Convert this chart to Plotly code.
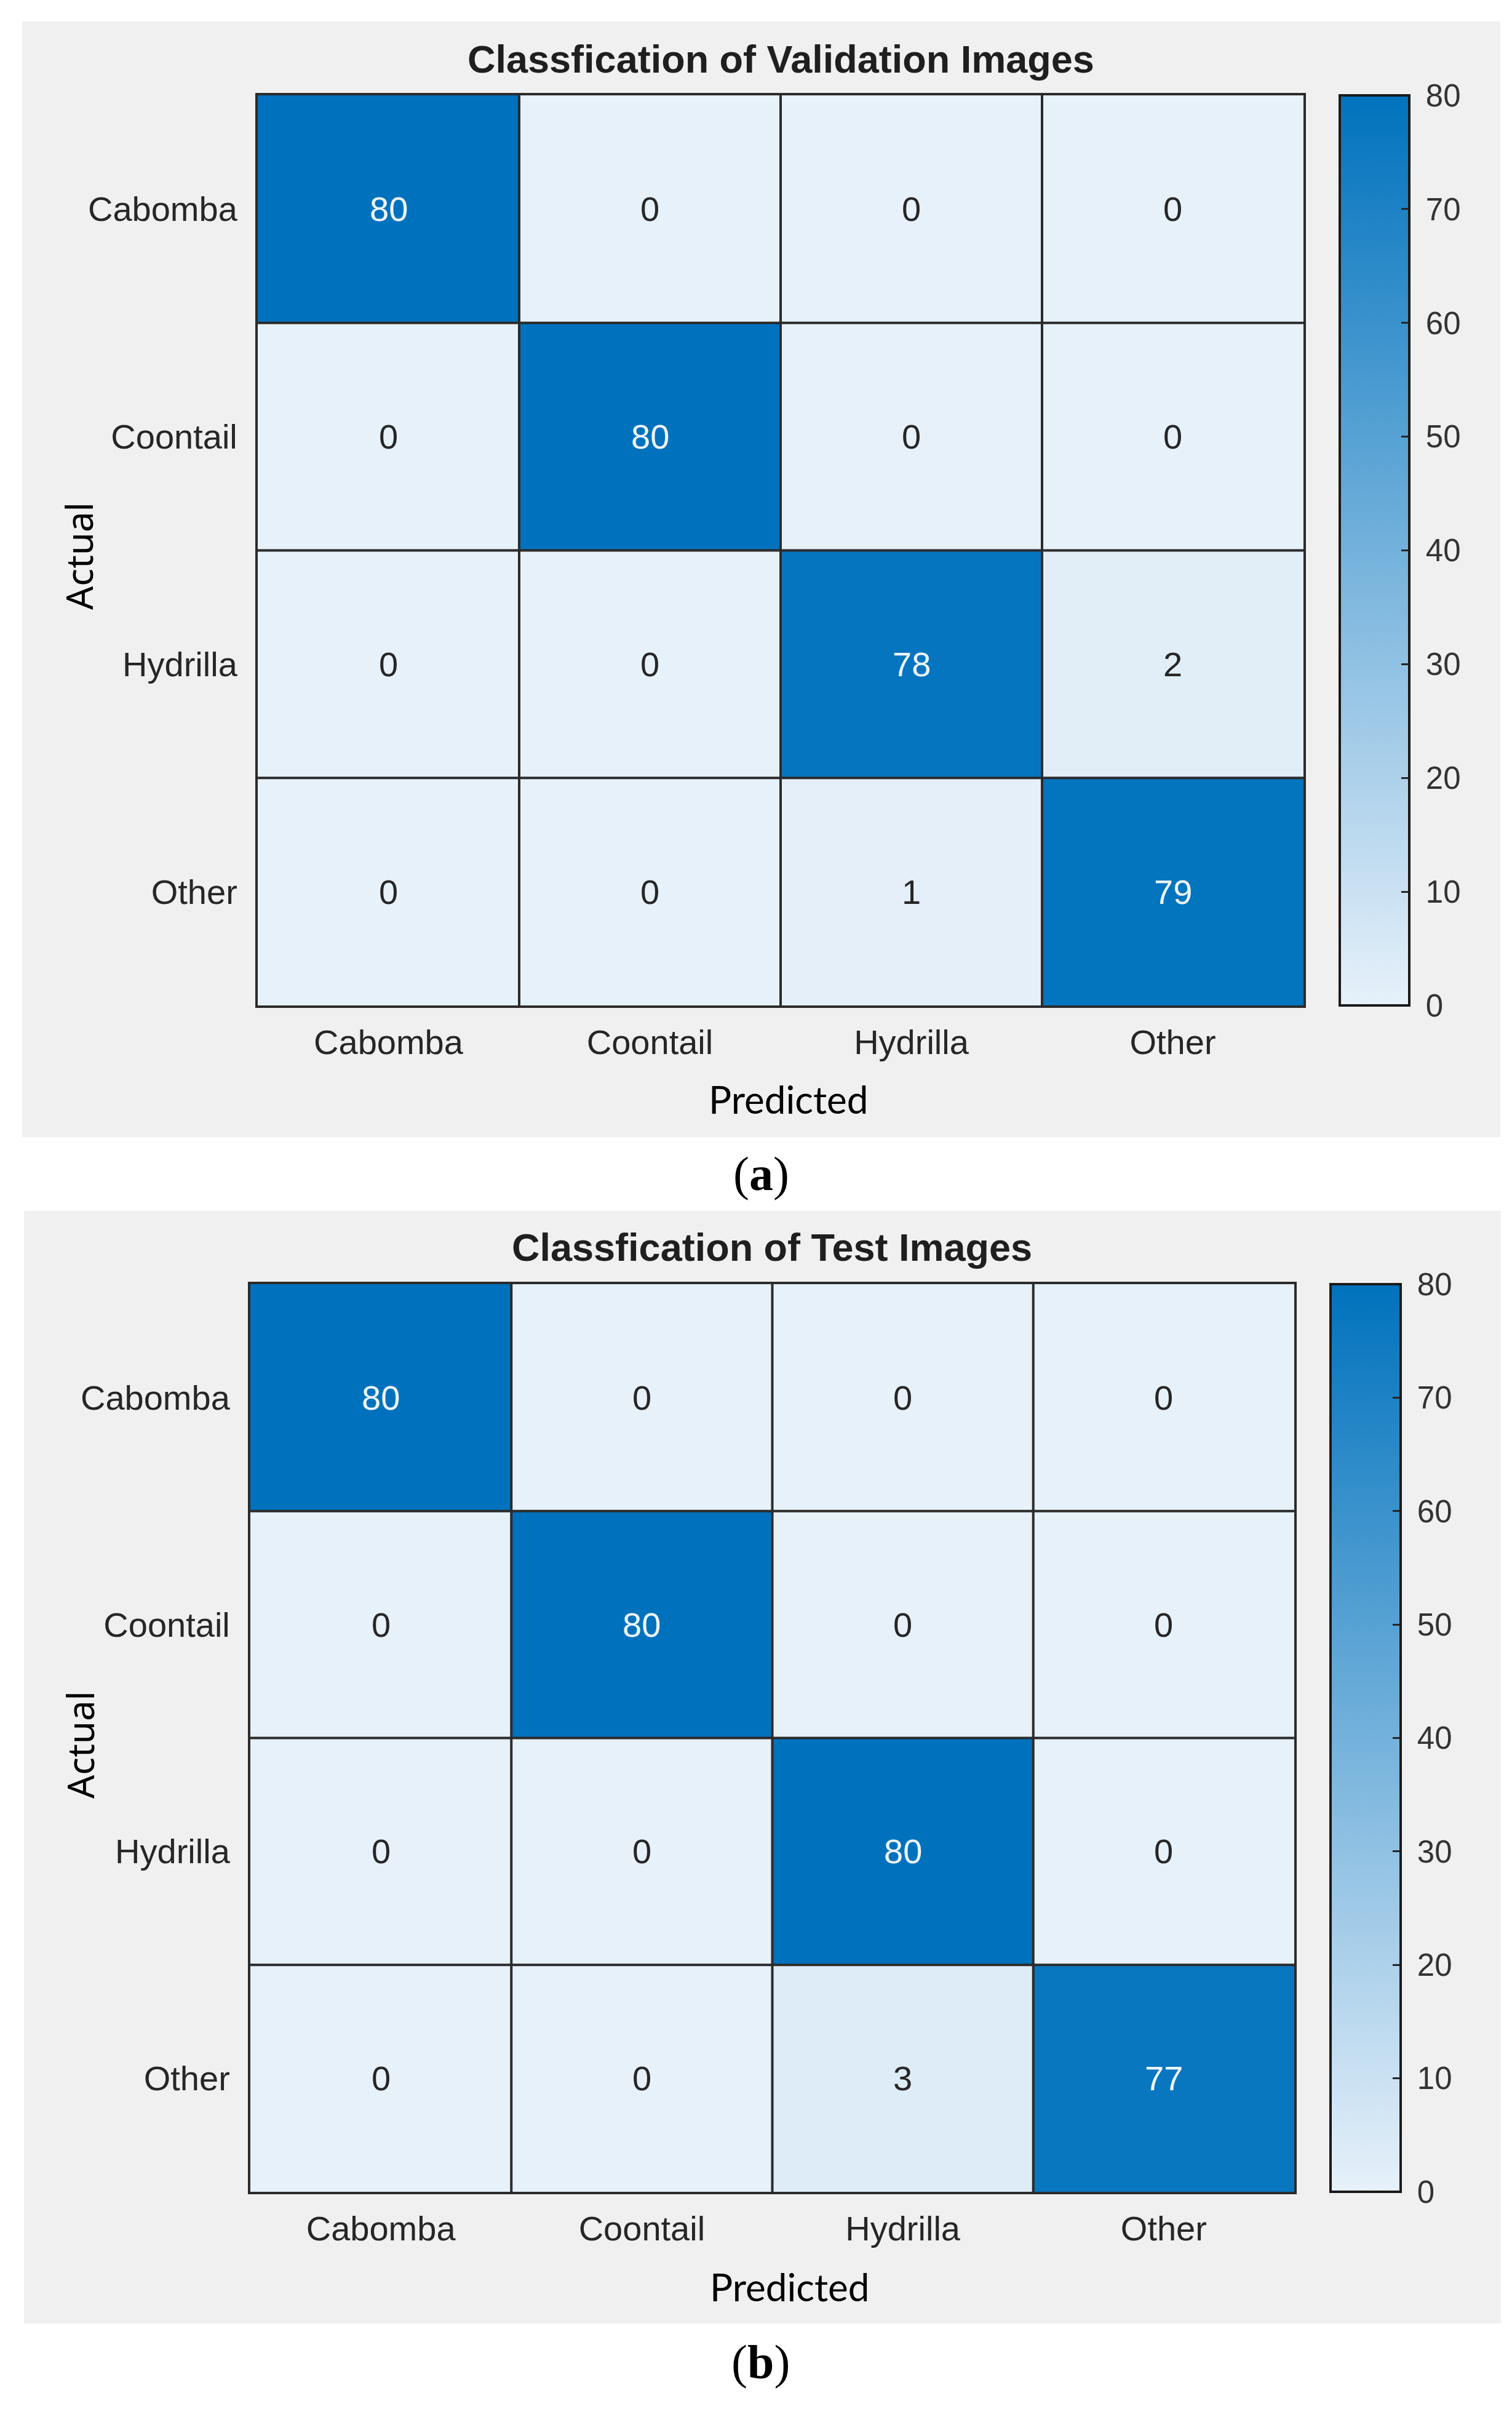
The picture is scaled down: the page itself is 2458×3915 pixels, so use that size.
import plotly.graph_objects as go

W, H = 2458, 3915

classes = ["Cabomba", "Coontail", "Hydrilla", "Other"]
val_counts = [[80, 0, 0, 0],
              [0, 80, 0, 0],
              [0, 0, 78, 2],
              [0, 0, 1, 79]]
test_counts = [[80, 0, 0, 0],
               [0, 80, 0, 0],
               [0, 0, 80, 0],
               [0, 0, 3, 77]]
titles = ["Classfication of Validation Images", "Classfication of Test Images"]
panel_tags = ["(<b>a</b>)", "(<b>b</b>)"]
cbar_ticks = [0, 10, 20, 30, 40, 50, 60, 70, 80]

# layout geometry (pixels)
panels = [
    dict(box=(28, 27, 2431, 1840), hm=(411, 147, 2111, 1626), cb=(2170, 2283),
         title_y=88, actual=(120, 896), pred=(1273, 1778), tag=(1229, 1900)),
    dict(box=(31, 1960, 2432, 3768), hm=(399, 2079, 2096, 3554), cb=(2155, 2269),
         title_y=2019, actual=(122, 2828), pred=(1275, 3708), tag=(1228, 3830)),
]

def px(x):
    return x / W

def py(y):
    return 1 - y / H

colorscale = [[0, "rgb(231,241,250)"], [1, "rgb(0,114,189)"]]
GRID = "#2b2b2b"
TXT = "#262626"
FONT = "Liberation Sans, Arial, sans-serif"

fig = go.Figure()
shapes = []
annotations = []

for k, (counts, p) in enumerate(zip([val_counts, test_counts], panels)):
    n = len(classes)
    idx = list(range(n))
    xa = "x" if k == 0 else f"x{k+1}"
    ya = "y" if k == 0 else f"y{k+1}"
    L, T, R, B = p["hm"]
    cl, cr = p["cb"]
    fig.add_trace(go.Heatmap(
        z=counts, x=idx, y=idx, xaxis=xa, yaxis=ya,
        colorscale=colorscale, zmin=0, zmax=80,
        hoverinfo="skip",
        colorbar=dict(
            x=px(cl), xanchor="left", xref="paper",
            y=py(T), yanchor="top", yref="paper",
            len=B - T, lenmode="pixels", thickness=cr - cl, thicknessmode="pixels",
            xpad=0, ypad=0, outlinewidth=4, outlinecolor="#1a1a1a",
            tickvals=cbar_ticks, ticktext=["\u00a0" + str(t) for t in cbar_ticks],
            ticks="inside", ticklen=15, tickwidth=3,
            tickcolor="#262626", tickfont=dict(family=FONT, size=51, color="#333333"),
        ),
    ))
    axis_common = dict(showgrid=False, zeroline=False, showline=True, mirror=True,
                       linecolor=GRID, linewidth=4, ticks="",
                       tickfont=dict(family=FONT, size=56, color=TXT),
                       tickvals=idx, ticktext=classes, range=[-0.5, n - 0.5],
                       fixedrange=True)
    xkey = "xaxis" if k == 0 else f"xaxis{k+1}"
    ykey = "yaxis" if k == 0 else f"yaxis{k+1}"
    fig.update_layout({
        xkey: dict(axis_common, domain=[px(L), px(R)], anchor=ya, ticklabelstandoff=8),
        ykey: dict(axis_common, domain=[py(B), py(T)], anchor=xa,
                   range=[n - 0.5, -0.5], ticklabelstandoff=18),
    })
    # cell borders between categories
    for b in range(1, n):
        shapes.append(dict(type="line", xref=xa, yref=ya, x0=b - 0.5, x1=b - 0.5,
                           y0=-0.5, y1=n - 0.5, line=dict(color=GRID, width=4),
                           layer="above"))
        shapes.append(dict(type="line", xref=xa, yref=ya, y0=b - 0.5, y1=b - 0.5,
                           x0=-0.5, x1=n - 0.5, line=dict(color=GRID, width=4),
                           layer="above"))
    # cell values
    for i in range(n):
        for j in range(n):
            v = counts[i][j]
            annotations.append(dict(
                x=j, y=i, xref=xa, yref=ya, text=str(v), showarrow=False,
                font=dict(family=FONT, size=56,
                          color="#eef5fc" if v > 40 else TXT)))
    # gray panel background
    bx0, by0, bx1, by1 = p["box"]
    shapes.append(dict(type="rect", xref="paper", yref="paper",
                       x0=px(bx0), x1=px(bx1), y0=py(by1), y1=py(by0),
                       fillcolor="#f0f0f0", line=dict(width=0), layer="below"))
    annotations.append(dict(x=px((L + R) / 2), y=py(p["title_y"]), xref="paper", yref="paper",
                            text="<b>" + titles[k] + "</b>", showarrow=False,
                            xanchor="center", yanchor="middle",
                            font=dict(family=FONT, size=63, color="#1f1f1f")))
    ax_, ay_ = p["actual"]
    annotations.append(dict(x=px(ax_), y=py(ay_), xref="paper", yref="paper",
                            text="Actual", textangle=-90, showarrow=False,
                            xanchor="center", yanchor="middle",
                            font=dict(family="Noto Sans", size=60, color="#000000")))
    pxx, pyy = p["pred"]
    annotations.append(dict(x=px(pxx), y=py(pyy), xref="paper", yref="paper",
                            text="Predicted", showarrow=False,
                            xanchor="center", yanchor="middle",
                            font=dict(family="Lato", size=62, color="#000000")))
    tx, ty = p["tag"]
    annotations.append(dict(x=px(tx), y=py(ty), xref="paper", yref="paper",
                            text=panel_tags[k], showarrow=False,
                            xanchor="center", yanchor="middle",
                            font=dict(family="Liberation Serif", size=78, color="#000000")))

fig.update_layout(
    width=W, height=H, margin=dict(l=0, r=0, t=0, b=0),
    paper_bgcolor="white", plot_bgcolor="white",
    shapes=shapes, annotations=annotations, showlegend=False,
)

fig.write_html("out.html")
